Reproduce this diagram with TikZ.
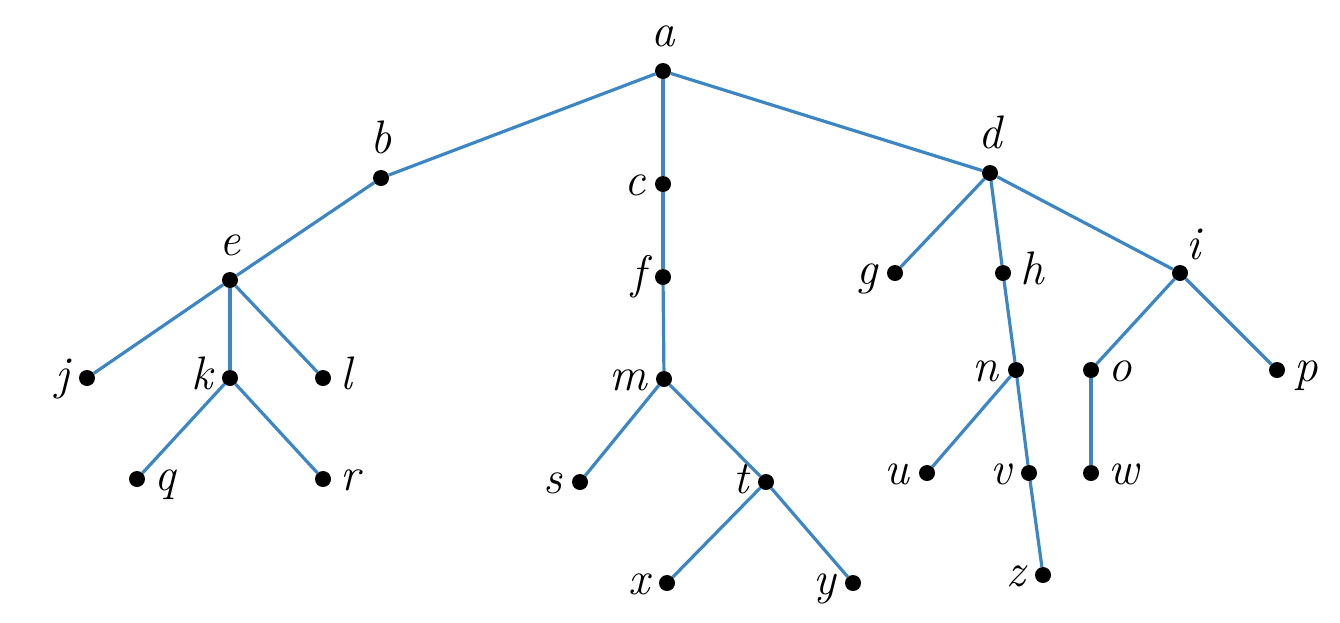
\documentclass[tikz,border=0pt]{standalone}
\usepackage{fontspec}
\definecolor{edgeblue}{RGB}{60,135,195}
\begin{document}
\begin{tikzpicture}[x=1pt,y=-1pt,
  dot/.style={circle,fill=black,inner sep=0pt,minimum size=16pt},
  lab/.style={font=\fontsize{47}{52}\selectfont\itshape,inner sep=0pt,text height=25pt,text depth=3pt},
  every label/.style={lab},
  edge/.style={draw=edgeblue,line width=3.2pt},
  L/.style={label={[label distance=9pt]left:#1}},
  R/.style={label={[label distance=9pt]right:#1}},
  U/.style={label={[label distance=13pt]above:#1}}]
\useasboundingbox (0,0) rectangle (1340,622);
% nodes
\node[dot,U=a] (a) at (663,71) {};
\node[dot,U=b] (b) at (381,178) {};
\node[dot,L=c] (c) at (663,184) {};
\node[dot,U=d] (d) at (990,173) {};
\node[dot,U=e] (e) at (230,280) {};
\node[dot,L=f] (f) at (663,277) {};
\node[dot,L=g] (g) at (895,273) {};
\node[dot,R=h] (h) at (1003,273) {};
\node[dot,label={[label distance=4pt]60:i}] (i) at (1180,273) {};
\node[dot,L=j] (j) at (87,378) {};
\node[dot,L=k] (k) at (230,378) {};
\node[dot,R=l] (l) at (323,378) {};
\node[dot,L=m] (m) at (664,379) {};
\node[dot,L=n] (n) at (1016,370) {};
\node[dot,R=o] (o) at (1091,370) {};
\node[dot,R=p] (p) at (1277,370) {};
\node[dot,R=q] (q) at (137,479) {};
\node[dot,R=r] (r) at (323,479) {};
\node[dot,L=s] (s) at (580,482) {};
\node[dot,L=t] (t) at (766,482) {};
\node[dot,L=u] (u) at (927,473) {};
\node[dot,L=v] (v) at (1029,473) {};
\node[dot,R=w] (w) at (1091,473) {};
\node[dot,L=x] (x) at (667,583) {};
\node[dot,L=y] (y) at (853,583) {};
\node[dot,L=z] (z) at (1043,575) {};
% edges
\foreach \p/\c in {a/b,a/c,a/d,b/e,c/f,f/m,d/g,d/h,d/i,e/j,e/k,e/l,k/q,k/r,m/s,m/t,t/x,t/y,h/n,n/u,n/v,v/z,i/o,i/p,o/w}
  \draw[edge] (\p) -- (\c);
\end{tikzpicture}
\end{document}
